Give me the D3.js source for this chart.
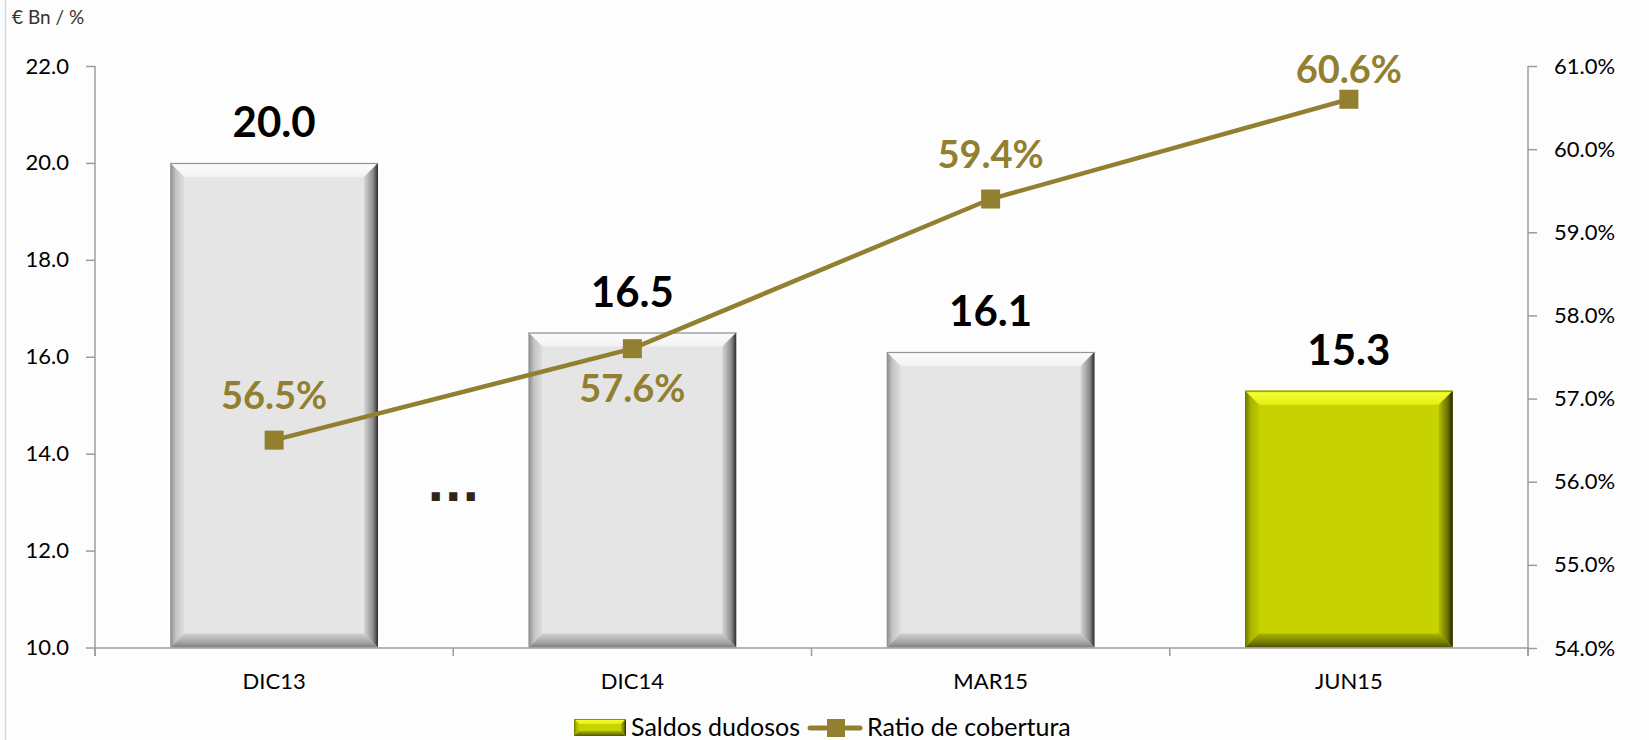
<!DOCTYPE html>
<html>
<head>
<meta charset="utf-8">
<script src="https://cdn.jsdelivr.net/npm/d3@7/dist/d3.min.js"></script>
<style>
  html, body { margin: 0; padding: 0; background: #fdfdfd; }
  svg { display: block; }
</style>
</head>
<body>
<svg id="chart" width="1649" height="740"></svg>
<script>
// Doubtful balances (€ Bn) and coverage ratio (%)
const categories = ["DIC13", "DIC14", "MAR15", "JUN15"];
const saldosDudosos = [20.0, 16.5, 16.1, 15.3];
const ratioCobertura = [56.5, 57.6, 59.4, 60.6];
const ratioLabelSide = ["above", "below", "above", "above"];
const leftTicks = [10, 12, 14, 16, 18, 20, 22];
const rightTicks = [54, 55, 56, 57, 58, 59, 60, 61];
const highlightCategory = "JUN15";
const unitLabel = "€ Bn / %";
const legendLabels = ["Saldos dudosos", "Ratio de cobertura"];

const W = 1649, H = 740;
const plot = { left: 95, right: 1528, top: 66, bottom: 648 };
const FONT = "Lato, 'Open Sans', sans-serif";
const lineColor = "#937f30";
const axisColor = "#9c9c9c";

const svg = d3.select("#chart");
svg.append("rect").attr("width", W).attr("height", H).attr("fill", "#fdfdfd");
// chart frame edge
svg.append("line").attr("x1", 5.5).attr("x2", 5.5).attr("y1", 0).attr("y2", H)
  .attr("stroke", "#dadada").attr("stroke-width", 1.5);

const x = d3.scaleBand().domain(categories)
  .range([plot.left, plot.right]).paddingInner(0.42).paddingOuter(0.21);
const yL = d3.scaleLinear().domain([10, 22]).range([plot.bottom - 0.5, plot.top]);
const yR = d3.scaleLinear().domain([54, 61]).range([plot.bottom, plot.top]);

// ---- gradients for bevelled bars ----
const defs = svg.append("defs");
function grad(id, dir, stops) {
  const g = defs.append("linearGradient").attr("id", id);
  if (dir === "down") g.attr("x1", 0).attr("y1", 0).attr("x2", 0).attr("y2", 1);
  else if (dir === "up") g.attr("x1", 0).attr("y1", 1).attr("x2", 0).attr("y2", 0);
  else if (dir === "right") g.attr("x1", 0).attr("y1", 0).attr("x2", 1).attr("y2", 0);
  else g.attr("x1", 1).attr("y1", 0).attr("x2", 0).attr("y2", 0);
  stops.forEach(([o, c]) => g.append("stop").attr("offset", o).attr("stop-color", c));
}
const themes = {
  gray: {
    face: "#e5e5e5", edge: "#8e8e8e",
    top: ["#cfcfcf", "#fbfbfb", "#f2f2f2"],
    left: ["#8a8a8a", "#c4c4c4", "#dedede"],
    right: ["#2c2c2c", "#8c8c8c", "#d6d6d6"],
    bottom: ["#7e7e7e", "#a8a8a8", "#cfcfcf"]
  },
  yellow: {
    face: "#c6d300", edge: "#8a9200",
    top: ["#a6b000", "#f4ff2c", "#e2ee14"],
    left: ["#6d7300", "#a7b200", "#bfcb00"],
    right: ["#1f2100", "#6a7000", "#b3bf00"],
    bottom: ["#4f5300", "#787f00", "#a9b400"]
  }
};
Object.entries(themes).forEach(([k, t]) => {
  grad(`${k}-top`, "down", [[0, t.top[0]], [0.15, t.top[1]], [1, t.top[2]]]);
  grad(`${k}-left`, "right", [[0, t.left[0]], [0.4, t.left[1]], [1, t.left[2]]]);
  grad(`${k}-right`, "left", [[0, t.right[0]], [0.35, t.right[1]], [1, t.right[2]]]);
  grad(`${k}-bottom`, "up", [[0, t.bottom[0]], [0.4, t.bottom[1]], [1, t.bottom[2]]]);
});

function bevelRect(g, x0, y0, w, h, themeKey, b) {
  const t = themes[themeKey];
  const x1 = x0 + w, y1 = y0 + h;
  const bb = Math.min(b, w / 2, h / 2);
  g.append("rect").attr("x", x0).attr("y", y0).attr("width", w).attr("height", h).attr("fill", t.face);
  const poly = (pts, fill) => g.append("polygon")
    .attr("points", pts.map(p => p.join(",")).join(" ")).attr("fill", fill);
  poly([[x0, y0], [x1, y0], [x1 - bb, y0 + bb], [x0 + bb, y0 + bb]], `url(#${themeKey}-top)`);
  poly([[x0, y0], [x0 + bb, y0 + bb], [x0 + bb, y1 - bb], [x0, y1]], `url(#${themeKey}-left)`);
  poly([[x1, y0], [x1, y1], [x1 - bb, y1 - bb], [x1 - bb, y0 + bb]], `url(#${themeKey}-right)`);
  poly([[x0, y1], [x0 + bb, y1 - bb], [x1 - bb, y1 - bb], [x1, y1]], `url(#${themeKey}-bottom)`);
  g.append("line").attr("x1", x0).attr("x2", x1).attr("y1", y0 + 0.5).attr("y2", y0 + 0.5)
    .attr("stroke", t.edge).attr("stroke-width", 1);
}

// ---- bars ----
const barsG = svg.append("g");
categories.forEach((c, i) => {
  const v = saldosDudosos[i];
  const top = yL(v), bot = yL(10);
  bevelRect(barsG, x(c), top, x.bandwidth(), bot - top, c === highlightCategory ? "yellow" : "gray", 14);
});

// bar value labels
svg.append("g").selectAll("text").data(categories).join("text")
  .attr("x", c => x(c) + x.bandwidth() / 2)
  .attr("y", (c, i) => yL(saldosDudosos[i]) - 26)
  .attr("text-anchor", "middle")
  .attr("font-family", FONT).attr("font-weight", 700).attr("font-size", 42)
  .attr("fill", "#000")
  .text((c, i) => d3.format(".1f")(saldosDudosos[i]));

// break marker between DIC13 and DIC14
svg.append("text")
  .attr("x", (x("DIC13") + x.bandwidth() + x("DIC14")) / 2)
  .attr("y", 501)
  .attr("text-anchor", "middle")
  .attr("font-family", "'DejaVu Sans', sans-serif").attr("font-weight", 700).attr("font-size", 46)
  .attr("fill", "#2f2417")
  .text("...");

// ---- axes ----
const axL = svg.append("g").attr("transform", `translate(${plot.left},0)`)
  .call(d3.axisLeft(yL).tickValues(leftTicks).tickSize(9).tickPadding(17).tickFormat(d3.format(".1f")));
const axR = svg.append("g").attr("transform", `translate(${plot.right},0)`)
  .call(d3.axisRight(yR).tickValues(rightTicks).tickSize(9).tickPadding(17).tickFormat(d => d.toFixed(1) + "%"));
[axL, axR].forEach(a => {
  a.select(".domain").remove();
  a.selectAll(".tick line").attr("stroke", axisColor).attr("stroke-width", 1.5);
  a.selectAll(".tick text").attr("font-family", FONT).attr("font-size", 22).attr("fill", "#000");
  a.append("line").attr("x1", 0).attr("x2", 0).attr("y1", plot.top).attr("y2", plot.bottom + 8)
    .attr("stroke", axisColor).attr("stroke-width", 1.5);
});

// category axis with ticks between categories
const bx = svg.append("g");
bx.append("line").attr("x1", plot.left).attr("x2", plot.right)
  .attr("y1", plot.bottom).attr("y2", plot.bottom)
  .attr("stroke", axisColor).attr("stroke-width", 1.5);
const boundaries = d3.range(categories.length + 1).map(i => plot.left + i * (plot.right - plot.left) / categories.length);
bx.selectAll(".bt").data(boundaries).join("line")
  .attr("x1", d => d).attr("x2", d => d).attr("y1", plot.bottom).attr("y2", plot.bottom + 8)
  .attr("stroke", axisColor).attr("stroke-width", 1.5);
bx.selectAll("text").data(categories).join("text")
  .attr("x", c => x(c) + x.bandwidth() / 2).attr("y", 689)
  .attr("text-anchor", "middle")
  .attr("font-family", FONT).attr("font-size", 22).attr("fill", "#000")
  .text(c => c);

// ---- coverage ratio line ----
const pts = categories.map((c, i) => [x(c) + x.bandwidth() / 2, yR(ratioCobertura[i])]);
svg.append("path").datum(pts)
  .attr("d", d3.line())
  .attr("fill", "none").attr("stroke", lineColor).attr("stroke-width", 4.5);
svg.append("g").selectAll("rect").data(pts).join("rect")
  .attr("x", d => d[0] - 9.5).attr("y", d => d[1] - 9.5)
  .attr("width", 19).attr("height", 19).attr("fill", lineColor);
svg.append("g").selectAll("text").data(pts).join("text")
  .attr("x", d => d[0])
  .attr("y", (d, i) => ratioLabelSide[i] === "below" ? d[1] + 53 : Math.max(d[1] - 31, plot.top + 17))
  .attr("text-anchor", "middle")
  .attr("font-family", FONT).attr("font-weight", 700).attr("font-size", 38)
  .attr("fill", lineColor)
  .text((d, i) => d3.format(".1f")(ratioCobertura[i]) + "%");

// unit label
svg.append("text").attr("x", 12).attr("y", 24)
  .attr("font-family", FONT).attr("font-size", 19).attr("fill", "#3b302b")
  .text(unitLabel);

// ---- legend ----
const lg = svg.append("g");
bevelRect(lg, 574, 719, 52, 17, "yellow", 5);
lg.append("text").attr("x", 631).attr("y", 736)
  .attr("font-family", FONT).attr("font-size", 25).attr("fill", "#000").text(legendLabels[0]);
lg.append("line").attr("x1", 810).attr("x2", 860).attr("y1", 728).attr("y2", 728)
  .attr("stroke", lineColor).attr("stroke-width", 5).attr("stroke-linecap", "round");
lg.append("rect").attr("x", 827).attr("y", 719).attr("width", 18).attr("height", 18).attr("fill", lineColor);
lg.append("text").attr("x", 867).attr("y", 736)
  .attr("font-family", FONT).attr("font-size", 25).attr("fill", "#000").text(legendLabels[1]);
</script>
</body>
</html>
